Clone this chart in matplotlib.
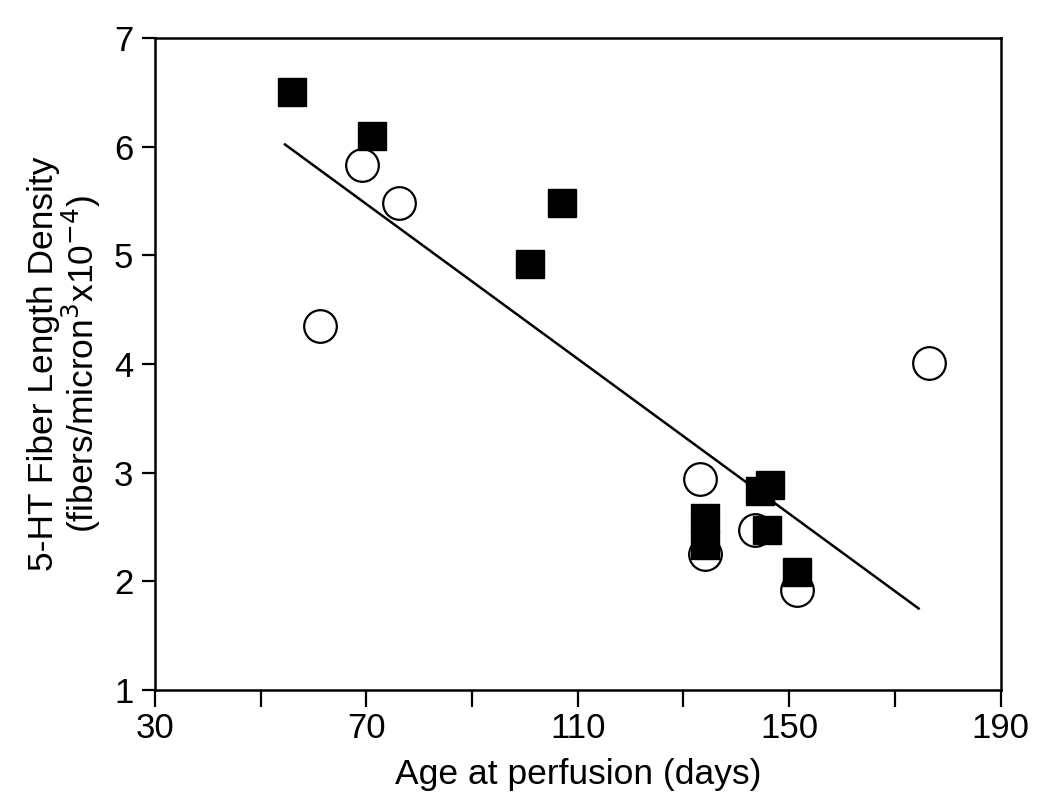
import numpy as np
import matplotlib.pyplot as plt
from matplotlib.ticker import FixedLocator

plt.rcParams['font.family'] = ['Liberation Sans', 'DejaVu Sans']

# Datos leidos del grafico
# cuadrados rellenos
sq_x = [56, 71, 107, 101, 134, 134, 144.4, 146.3, 145.9, 151.4]
sq_y = [6.5, 6.1, 5.48, 4.92, 2.58, 2.33, 2.83, 2.89, 2.47, 2.09]
# circulos abiertos
ci_x = [69.2, 76.2, 61.3, 176.4, 133.2, 134, 143.6, 151.4]
ci_y = [5.83, 5.48, 4.35, 4.01, 2.94, 2.25, 2.47, 1.92]
# recta de regresion (extremos)
line_x = [54.6, 174.5]
line_y = [6.02, 1.75]

xticks = [30, 70, 110, 150, 190]
xminor = [50, 90, 130, 170]
yticks = [1, 2, 3, 4, 5, 6, 7]

fig = plt.figure(figsize=(10.5, 8.06), dpi=100)
ax = fig.add_axes([0.1476, 0.1439, 0.8053, 0.809])

ax.plot(line_x, line_y, color='black', lw=1.8, zorder=2)
ax.plot(ci_x, ci_y, 'o', ms=23.5, mfc='white', mec='black', mew=1.6, ls='none', zorder=3)
ax.plot(sq_x, sq_y, 's', ms=19.5, mfc='black', mec='black', ls='none', zorder=4)

ax.set_xlim(30, 190)
ax.set_ylim(1, 7)
ax.xaxis.set_major_locator(FixedLocator(xticks))
ax.xaxis.set_minor_locator(FixedLocator(xminor))
ax.yaxis.set_major_locator(FixedLocator(yticks))

for s in ax.spines.values():
    s.set_linewidth(1.8)

ax.tick_params(axis='x', which='both', direction='out', length=12, width=1.6,
               labelsize=25, pad=4)
ax.tick_params(axis='y', which='major', direction='out', length=9.5, width=1.6,
               labelsize=25, pad=6)

ax.set_xlabel('Age at perfusion (days)', fontsize=25.5, labelpad=9)
ax.set_ylabel('5-HT Fiber Length Density\n(fibers/micron$^3$x10$^{-4}$)',
              fontsize=25.5, labelpad=8, linespacing=1.0)

plt.savefig('out.png', dpi=100)
